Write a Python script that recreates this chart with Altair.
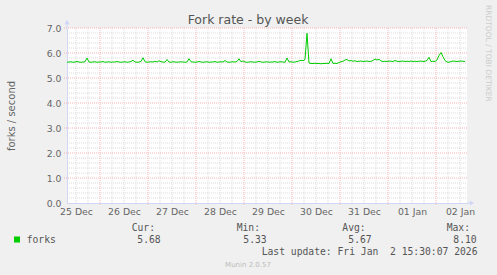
import altair as alt
import pandas as pd
from datetime import datetime, timedelta, timezone

# ---------------- data ----------------
START = datetime(2025, 12, 25, 7, 30, tzinfo=timezone.utc)
END = START + timedelta(hours=200)

# hourly fork rate (forks / second), starting at START
forks = [
    5.63, 5.64, 5.65, 5.63, 5.64, 5.66, 5.64, 5.63, 5.64, 5.65, 5.80, 5.64, 5.63, 5.64, 5.65, 5.63, 5.64, 5.64, 5.66, 5.63, 5.64, 5.65, 5.63, 5.64,
    5.64, 5.66, 5.64, 5.63, 5.64, 5.65, 5.63, 5.64, 5.66, 5.71, 5.64, 5.63, 5.64, 5.66, 5.81, 5.65, 5.63, 5.64, 5.65, 5.64, 5.67, 5.64, 5.69, 5.65,
    5.64, 5.63, 5.74, 5.64, 5.63, 5.65, 5.64, 5.63, 5.64, 5.65, 5.64, 5.63, 5.64, 5.77, 5.65, 5.64, 5.63, 5.64, 5.66, 5.64, 5.63, 5.64, 5.65, 5.63,
    5.64, 5.64, 5.66, 5.63, 5.64, 5.65, 5.64, 5.70, 5.64, 5.63, 5.64, 5.65, 5.64, 5.66, 5.77, 5.65, 5.68, 5.64, 5.63, 5.64, 5.65, 5.64, 5.63, 5.64,
    5.67, 5.64, 5.63, 5.64, 5.65, 5.63, 5.64, 5.64, 5.66, 5.63, 5.64, 5.65, 5.64, 5.63, 5.80, 5.64, 5.65, 5.63, 5.64, 5.66, 5.68, 5.71, 5.69, 5.74,
    6.79, 5.60, 5.58, 5.58, 5.59, 5.58, 5.58, 5.57, 5.58, 5.58, 5.59, 5.58, 5.77, 5.58, 5.59, 5.58, 5.62, 5.65, 5.67, 5.72, 5.74, 5.68, 5.70, 5.67,
    5.69, 5.66, 5.67, 5.68, 5.66, 5.67, 5.68, 5.66, 5.67, 5.70, 5.76, 5.72, 5.75, 5.68, 5.66, 5.67, 5.66, 5.68, 5.67, 5.66, 5.70, 5.67, 5.66, 5.67,
    5.68, 5.66, 5.67, 5.66, 5.68, 5.66, 5.67, 5.66, 5.67, 5.68, 5.66, 5.67, 5.70, 5.83, 5.66, 5.67, 5.66, 5.72, 5.90, 6.02, 5.85, 5.70, 5.64, 5.63,
    5.66, 5.68, 5.67, 5.66, 5.67, 5.68, 5.67, 5.66,
]

y_ticks = [0, 1, 2, 3, 4, 5, 6, 7]
title_text = "Fork rate - by week"
y_title = "forks / second"
series_name = "forks"
legend_labels = ["Cur:", "Min:", "Avg:", "Max:"]
legend_values = ["5.68", "5.33", "5.67", "8.10"]
last_update = "Last update: Fri Jan \u00a02 15:30:07 2026"
footer = "Munin 2.0.57"
side_text = "RRDTOOL / TOBI OETIKER"


def ms(d):
    return int(d.timestamp() * 1000)


times = [ms(START + timedelta(hours=h)) for h in range(len(forks))]
df = pd.DataFrame({"time": times, "forks": forks})

first_midnight = datetime(2025, 12, 26, 0, 0, tzinfo=timezone.utc)
major_x = [ms(first_midnight + timedelta(days=d)) for d in range(8)]
minor_x = [ms(first_midnight + timedelta(hours=h)) for h in range(-12, 8 * 24, 6) if h % 24 != 0]
minor_x = [t for t in minor_x if ms(START) < t < ms(END)]
label_x = [ms(datetime(2025, 12, 25, 12, 0, tzinfo=timezone.utc) + timedelta(days=d)) for d in range(9)]
major_y = [1, 2, 3, 4, 5, 6, 7]
minor_y = [round(i * 0.2, 1) for i in range(1, 35) if i % 5 != 0]

# ---------------- layout ----------------
W, H = 400, 175
LEFT, TOP = 67, 28
AXIS_COLOR = "#CFD6F8"
FONT_COLOR = "#666666"

xscale = alt.Scale(type="utc", domain=[ms(START), ms(END)])
yscale = alt.Scale(domain=[0, 7], nice=False, zero=True)

x_axis = alt.Axis(
    values=label_x, labelExpr="utcFormat(datum.value, '%d %b')", grid=False, ticks=False,
    labelPadding=4, domainColor=AXIS_COLOR, labelColor=FONT_COLOR,
    labelFont="DejaVu Sans", labelFontSize=9.3, title=None, labelOverlap=False,
    labelFlush=False,
)
y_axis = alt.Axis(
    values=y_ticks, format=".1f", grid=False, ticks=False, labelPadding=6,
    domainColor=AXIS_COLOR, labelColor=FONT_COLOR, labelFont="DejaVu Sans",
    labelFontSize=9.3, title=None,
)

MINOR = "#DADADA"
MAJOR = "#F4B4B4"

minor_v = alt.Chart(pd.DataFrame({"time": minor_x})).mark_rule(
    color=MINOR, strokeDash=[1, 1], strokeWidth=1
).encode(x=alt.X("time:T", scale=xscale, axis=x_axis), y=alt.value(0), y2=alt.value(H))

minor_h = alt.Chart(pd.DataFrame({"v": minor_y})).mark_rule(
    color=MINOR, strokeDash=[1, 1], strokeWidth=1
).encode(y=alt.Y("v:Q", scale=yscale, axis=y_axis), x=alt.value(0), x2=alt.value(W))

major_v = alt.Chart(pd.DataFrame({"time": major_x})).mark_rule(
    color=MAJOR, strokeDash=[1, 1], strokeWidth=1
).encode(x=alt.X("time:T", scale=xscale, axis=x_axis), y=alt.value(0), y2=alt.value(H + 3))

major_h = alt.Chart(pd.DataFrame({"v": major_y})).mark_rule(
    color=MAJOR, strokeDash=[1, 1], strokeWidth=1
).encode(y=alt.Y("v:Q", scale=yscale, axis=y_axis), x=alt.value(-3), x2=alt.value(W))

line = alt.Chart(df).mark_line(color="#00CC00", strokeWidth=1).encode(
    x=alt.X("time:T", scale=xscale, axis=x_axis),
    y=alt.Y("forks:Q", scale=yscale, axis=y_axis),
)

one = pd.DataFrame({"s": [""]})

y_ext = alt.Chart(one).mark_rule(color=AXIS_COLOR).encode(
    x=alt.value(0), y=alt.value(-6), y2=alt.value(0))
x_ext = alt.Chart(one).mark_rule(color=AXIS_COLOR).encode(
    x=alt.value(W), x2=alt.value(W + 5), y=alt.value(H))
y_arrow = alt.Chart(one).mark_point(shape="triangle-up", filled=True, color=AXIS_COLOR, size=25, opacity=1).encode(
    x=alt.value(0), y=alt.value(-6))
x_arrow = alt.Chart(one).mark_point(shape="triangle-right", filled=True, color=AXIS_COLOR, size=25, opacity=1).encode(
    x=alt.value(W + 5), y=alt.value(H))


def txt(s, ax, ay, **kw):
    return alt.Chart(pd.DataFrame({"s": [s]})).mark_text(**kw).encode(
        x=alt.value(ax - LEFT), y=alt.value(ay - TOP), text="s:N")


mono = dict(font="DejaVu Sans Mono", fontSize=9.7, color="#555555", align="left", baseline="alphabetic")

texts = [
    txt(title_text, 248, 23.5, font="DejaVu Sans", fontSize=12.5, color="#555555", align="center", baseline="alphabetic"),
    txt(y_title, 12, 116, font="DejaVu Sans", fontSize=10, color=FONT_COLOR, align="center", baseline="middle", angle=270),
    txt(side_text, 488, 5, font="DejaVu Sans", fontSize=7.5, color="#CCCCCC", align="left", baseline="middle", angle=90),
    txt(series_name, 26.7, 243, **mono),
    txt(last_update, 261.7, 255, **mono),
    txt(footer, 248, 267, font="DejaVu Sans", fontSize=7, color="#BBBBBB", align="center", baseline="alphabetic"),
]
head_x = [131.7, 236.7, 342.3, 446.7]
val_x = [137.3, 243.3, 348.3, 453.3]
for lab, hx in zip(legend_labels, head_x):
    texts.append(txt(lab, hx, 231, **mono))
for val, vx in zip(legend_values, val_x):
    texts.append(txt(val, vx, 243, **mono))

swatch = alt.Chart(one).mark_square(color="#00CC00", size=36, opacity=1).encode(
    x=alt.value(17 - LEFT), y=alt.value(239.5 - TOP))

chart = alt.layer(
    minor_v, minor_h, major_v, major_h, line, y_ext, x_ext, y_arrow, x_arrow, swatch, *texts
).properties(
    width=W, height=H,
    autosize=alt.AutoSizeParams(type="none"),
    padding={"left": LEFT, "top": TOP, "right": 497 - LEFT - W, "bottom": 275 - TOP - H},
    background="#F0F0F0",
).configure_view(stroke=None, fill="white")

chart.save("out.html", embed_options={"renderer": "svg", "actions": False})
